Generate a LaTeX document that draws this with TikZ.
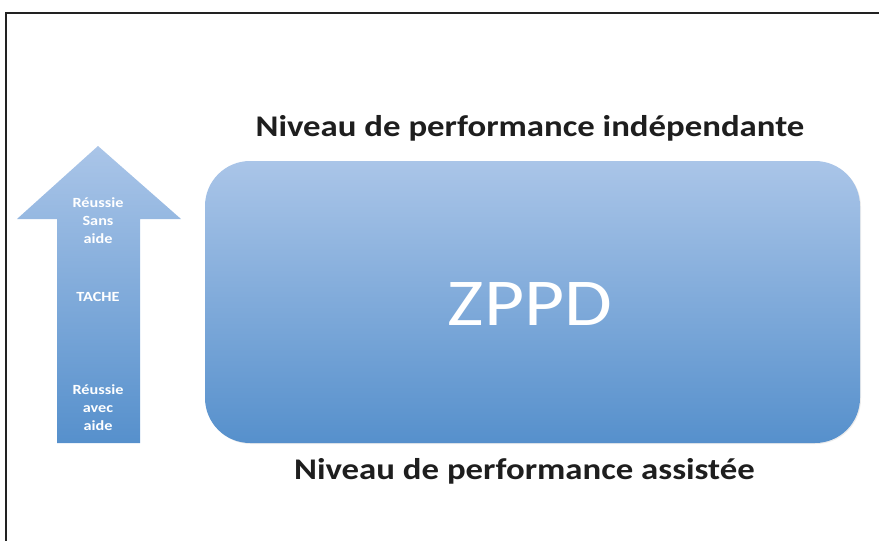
\documentclass[tikz,border=0pt]{standalone}
\usepackage{fontspec}
\usetikzlibrary{shadows}
\setmainfont{Carlito}
\definecolor{topblue}{HTML}{AAC5E8}
\definecolor{botblue}{HTML}{5690CC}
\definecolor{frame}{HTML}{222222}
\definecolor{titlec}{HTML}{1E1E1E}
\newcommand{\wide}[1]{\scalebox{1.16}[1]{#1}}
\tikzset{
  title/.style={font=\fontsize{30}{36}\selectfont\bfseries, text=titlec, anchor=base, inner sep=0pt},
  arrowtext/.style={font=\fontsize{14}{18}\selectfont\bfseries, text=white, anchor=base, inner sep=0pt},
  shadeblue/.style={top color=topblue, bottom color=botblue}
}
\begin{document}
\begin{tikzpicture}[x=1pt,y=-1pt]
\useasboundingbox (0,0) rectangle (879,541);
% frame
\draw[frame, line width=1.6pt] (6,541) -- (6,13) -- (879,13);
% big rounded box
\node[shadeblue, rounded corners=45pt, minimum width=655pt, minimum height=282pt, inner sep=0pt,
  drop shadow={opacity=0.15, shadow xshift=1pt, shadow yshift=-1pt}] (box) at (532.5,302) {};
\node[font=\fontsize{67}{70}\selectfont, text=white, anchor=base, inner sep=0pt] (zppd) at (530,325) {\wide{ZPPD}};
\node[title] (top) at (530,136) {\wide{Niveau de performance indépendante}};
\node[title] (bot) at (524.5,479) {\wide{Niveau de performance assistée}};
% arrow
\shade[shadeblue] (98,146) -- (181,219) -- (140,219) -- (140,443) -- (57,443) -- (57,219) -- (17,219) -- cycle;
\node[arrowtext] (a1) at (98,207) {\wide{Réussie}};
\node[arrowtext] (a2) at (98,225) {\wide{Sans}};
\node[arrowtext] (a3) at (98,243) {\wide{aide}};
\node[arrowtext] (a4) at (98,301) {\wide{TACHE}};
\node[arrowtext] (a5) at (98,394) {\wide{Réussie}};
\node[arrowtext] (a6) at (98,412) {\wide{avec}};
\node[arrowtext] (a7) at (98,430) {\wide{aide}};
\end{tikzpicture}
\end{document}
